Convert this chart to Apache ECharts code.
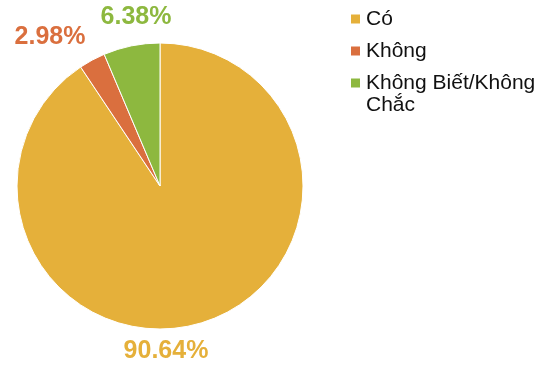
<!DOCTYPE html>
<html>
<head>
<meta charset="utf-8">
<script src="https://cdn.jsdelivr.net/npm/echarts@6/dist/echarts.min.js"></script>
<style>
html,body{margin:0;padding:0;background:#fff;}
#c{width:540px;height:367px;}
</style>
</head>
<body>
<div id="c"></div>
<script>
const categories = ['Có', 'Không', 'Không Biết/Không Chắc'];
const values = [90.64, 2.98, 6.38];
const colors = ['#E5B03A', '#DA6F3E', '#8DB83F'];

const labelCenters = [[166, 351], [50, 37], [136, 17]];

const chart = echarts.init(document.getElementById('c'), null, {renderer: 'canvas'});
chart.setOption({
  animation: false,
  color: colors,
  legend: {
    orient: 'vertical',
    left: 344,
    top: 3,
    itemWidth: 11,
    itemHeight: 11,
    itemGap: 10,
    icon: 'rect',
    data: categories,
    formatter: function (name) {
      return name === 'Không Biết/Không Chắc' ? 'Không Biết/Không' : name;
    },
    textStyle: {
      fontFamily: 'Liberation Sans, Arial, sans-serif',
      fontSize: 21,
      color: '#111',
      lineHeight: 22
    }
  },
  graphic: [{
    type: 'text',
    x: 366,
    y: 105,
    style: {
      text: 'Chắc',
      font: '21px "Liberation Sans", Arial, sans-serif',
      fill: '#111',
      verticalAlign: 'middle'
    }
  }],
  series: [{
    type: 'pie',
    center: [160, 186],
    radius: 143,
    startAngle: 90,
    clockwise: true,
    data: categories.map((n, i) => ({name: n, value: values[i]})),
    itemStyle: {borderColor: '#fff', borderWidth: 1},
    label: {
      show: true,
      position: 'outside',
      overflow: 'none',
      formatter: function (p) { return p.value.toFixed(2) + '%'; },
      fontFamily: 'Liberation Sans, Arial, sans-serif',
      fontWeight: 'bold',
      fontSize: 25,
      color: 'inherit'
    },
    labelLine: {show: false},
    labelLayout: function (p) {
      const c = labelCenters[p.dataIndex];
      return {x: c[0], y: c[1], align: 'center', verticalAlign: 'middle'};
    },
    emphasis: {disabled: true}
  }]
});
</script>
</body>
</html>
